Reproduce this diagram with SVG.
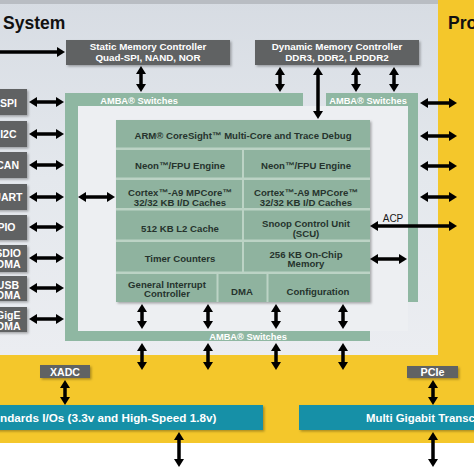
<svg xmlns="http://www.w3.org/2000/svg" width="474" height="474" viewBox="0 0 474 474">
<defs>
<linearGradient id="bg" x1="0" y1="0" x2="0" y2="1">
<stop offset="0" stop-color="#d7dce3"/>
<stop offset="0.5" stop-color="#e4e8ed"/>
<stop offset="1" stop-color="#ebedf1"/>
</linearGradient>
<marker id="ah" viewBox="0 0 8 10" refX="1" refY="5" markerWidth="8" markerHeight="10" markerUnits="userSpaceOnUse" orient="auto-start-reverse">
<path d="M0,0 L8,5 L0,10 z" fill="#000"/>
</marker>
<filter id="sh" x="-10%" y="-20%" width="130%" height="160%">
<feDropShadow dx="1.5" dy="1.5" stdDeviation="1.2" flood-color="#000" flood-opacity="0.3"/>
</filter>
</defs>
<style>
.gbox{fill:#616264;filter:url(#sh)}
.wt{font-family:"Liberation Sans",Arial,sans-serif;font-weight:bold;fill:#ffffff}
.pl{font-size:10.5px;text-anchor:end}
.ct{font-family:"Liberation Sans",Arial,sans-serif;font-weight:bold;fill:#26332d;font-size:9.6px;text-anchor:middle}
.amba{fill:#8fb7a2}
.sep{fill:#bcd3c5}
.arr{stroke:#000;stroke-width:3.5;fill:none;marker-start:url(#ah);marker-end:url(#ah)}
.arr1{stroke:#000;stroke-width:3.5;fill:none;marker-end:url(#ah)}
.teal{fill:#1690a7;filter:url(#sh)}
</style>

<!-- backgrounds -->
<rect x="0" y="0" width="474" height="474" fill="#ffffff"/>
<rect x="0" y="0" width="474" height="443" fill="#f4c72b"/>
<rect x="0" y="0" width="438" height="355" fill="url(#bg)"/>
<rect x="0" y="0" width="438" height="4" fill="#b9bdc3"/>
<rect x="78" y="106" width="330" height="225" fill="#edeff2"/>

<!-- titles -->
<text x="3" y="29" font-family="Liberation Sans,Arial,sans-serif" font-weight="bold" font-size="17.5" fill="#111">System</text>
<text x="448" y="29" font-family="Liberation Sans,Arial,sans-serif" font-weight="bold" font-size="17.5" fill="#111">Pro</text>

<!-- AMBA switch frame -->
<g id="amba-switches">
<rect class="amba" x="65" y="93" width="238" height="13"/>
<rect class="amba" x="65" y="93" width="13" height="248"/>
<rect class="amba" x="65" y="331" width="305" height="10"/>
<rect class="amba" x="326" y="93" width="92" height="13"/>
<rect class="amba" x="408" y="93" width="10" height="209"/>
<text class="wt" x="139" y="103.5" font-size="9.3" text-anchor="middle">AMBA® Switches</text>
<text class="wt" x="368" y="103.5" font-size="9.3" text-anchor="middle">AMBA® Switches</text>
<text class="wt" x="248" y="339.5" font-size="9.3" text-anchor="middle">AMBA® Switches</text>
</g>

<!-- memory controllers -->
<g id="static-memory-controller">
<rect class="gbox" x="66" y="40" width="164" height="25"/>
<text class="wt" x="148" y="50" font-size="9.8" text-anchor="middle">Static Memory Controller</text>
<text class="wt" x="148" y="61" font-size="9.8" text-anchor="middle">Quad-SPI, NAND, NOR</text>
</g>
<g id="dynamic-memory-controller">
<rect class="gbox" x="255" y="40" width="164" height="25"/>
<text class="wt" x="337" y="50" font-size="9.8" text-anchor="middle">Dynamic Memory Controller</text>
<text class="wt" x="337" y="61" font-size="9.8" text-anchor="middle">DDR3, DDR2, LPDDR2</text>
</g>

<!-- peripherals -->
<g id="spi"><rect class="gbox" x="-5" y="89" width="32" height="26"/><text class="wt pl" x="17" y="106.5">SPI</text></g>
<g id="i2c"><rect class="gbox" x="-5" y="121" width="32" height="26"/><text class="wt pl" x="16.5" y="138">I2C</text></g>
<g id="can"><rect class="gbox" x="-5" y="152" width="32" height="26"/><text class="wt pl" x="19" y="169">CAN</text></g>
<g id="uart"><rect class="gbox" x="-5" y="184" width="32" height="26"/><text class="wt pl" x="22.5" y="201">UART</text></g>
<g id="gpio"><rect class="gbox" x="-5" y="215" width="32" height="25"/><text class="wt pl" x="15.5" y="231">PIO</text></g>
<g id="sdio"><rect class="gbox" x="-5" y="245" width="32" height="27"/><text class="wt pl" x="21" y="257">SDIO</text><text class="wt pl" x="20.5" y="268">DMA</text></g>
<g id="usb"><rect class="gbox" x="-5" y="276" width="32" height="25"/><text class="wt pl" x="19" y="288.5">USB</text><text class="wt pl" x="20.5" y="299">DMA</text></g>
<g id="gige"><rect class="gbox" x="-5" y="307" width="32" height="25"/><text class="wt pl" x="20.5" y="319">GigE</text><text class="wt pl" x="20.5" y="329.5">DMA</text></g>

<!-- core block -->
<g id="core">
<rect x="116" y="120" width="254" height="182" fill="#8fb39f" filter="url(#sh)"/>
<rect class="sep" x="116" y="147.5" width="254" height="2.5"/>
<rect class="sep" x="116" y="177.5" width="254" height="2.5"/>
<rect class="sep" x="116" y="208" width="254" height="2.5"/>
<rect class="sep" x="116" y="239.5" width="254" height="2.5"/>
<rect class="sep" x="116" y="271.5" width="254" height="2.5"/>
<rect class="sep" x="242" y="150" width="2" height="122"/>
<rect class="sep" x="216.5" y="274" width="2" height="28"/>
<rect class="sep" x="266.5" y="274" width="2" height="28"/>
<text class="ct" x="243" y="138.5">ARM® CoreSight™ Multi-Core and Trace Debug</text>
<text class="ct" x="180" y="168.5">Neon™/FPU Engine</text>
<text class="ct" x="306" y="168.5">Neon™/FPU Engine</text>
<text class="ct" x="180" y="195.5">Cortex™-A9 MPCore™</text>
<text class="ct" x="180" y="205.5">32/32 KB I/D Caches</text>
<text class="ct" x="306" y="195.5">Cortex™-A9 MPCore™</text>
<text class="ct" x="306" y="205.5">32/32 KB I/D Caches</text>
<text class="ct" x="180" y="231.5">512 KB L2 Cache</text>
<text class="ct" x="306" y="226.5">Snoop Control Unit</text>
<text class="ct" x="306" y="236.5">(SCU)</text>
<text class="ct" x="180" y="261.5">Timer Counters</text>
<text class="ct" x="306" y="257.5">256 KB On-Chip</text>
<text class="ct" x="306" y="267">Memory</text>
<text class="ct" x="167" y="287.5">General Interrupt</text>
<text class="ct" x="167" y="297">Controller</text>
<text class="ct" x="242" y="294.5">DMA</text>
<text class="ct" x="318" y="294.5">Configuration</text>
</g>

<!-- bottom blocks -->
<g id="xadc"><rect class="gbox" x="40" y="365" width="50" height="13"/><text class="wt" x="65" y="375.8" font-size="10.6" text-anchor="middle">XADC</text></g>
<g id="pcie"><rect class="gbox" x="407" y="366" width="51" height="12"/><text class="wt" x="432.5" y="376" font-size="10.8" text-anchor="middle">PCIe</text></g>
<g id="standard-ios"><rect class="teal" x="-5" y="405" width="268" height="25"/><text class="wt" x="0" y="422" font-size="11.7">ndards I/Os (3.3v and High-Speed 1.8v)</text></g>
<g id="mgt"><rect class="teal" x="299" y="405" width="180" height="25"/><text class="wt" x="366" y="422" font-size="11.4">Multi Gigabit Transc</text></g>

<!-- connectors -->
<g id="connectors">
<line class="arr1" x1="0" y1="52" x2="58" y2="52"/>
<line class="arr" x1="141" y1="73" x2="141" y2="85"/>
<line class="arr" x1="280" y1="74" x2="280" y2="85"/>
<line class="arr" x1="318" y1="74" x2="318" y2="112"/>
<line class="arr" x1="356" y1="74" x2="356" y2="85"/>
<line class="arr" x1="394" y1="74" x2="394" y2="85"/>
<line class="arr" x1="36" y1="102" x2="57" y2="102"/>
<line class="arr" x1="36" y1="134" x2="57" y2="134"/>
<line class="arr" x1="36" y1="165" x2="57" y2="165"/>
<line class="arr" x1="36" y1="197" x2="57" y2="197"/>
<line class="arr" x1="36" y1="227" x2="57" y2="227"/>
<line class="arr" x1="36" y1="258" x2="57" y2="258"/>
<line class="arr" x1="36" y1="288" x2="57" y2="288"/>
<line class="arr" x1="36" y1="319" x2="57" y2="319"/>
<line class="arr" x1="85" y1="197" x2="108" y2="197"/>
<line class="arr" x1="427" y1="103" x2="450" y2="103"/>
<line class="arr" x1="427" y1="136" x2="450" y2="136"/>
<line class="arr" x1="427" y1="166" x2="450" y2="166"/>
<line class="arr" x1="427" y1="197" x2="450" y2="197"/>
<line class="arr" x1="377" y1="226" x2="450" y2="226"/>
<text x="393" y="221.5" font-family="Liberation Sans,Arial,sans-serif" font-size="10" fill="#1a1a1a" text-anchor="middle">ACP</text>
<line class="arr" x1="377" y1="259" x2="400" y2="259"/>
<line class="arr" x1="142" y1="311" x2="142" y2="322"/>
<line class="arr" x1="208" y1="311" x2="208" y2="322"/>
<line class="arr" x1="276" y1="311" x2="276" y2="322"/>
<line class="arr" x1="343" y1="311" x2="343" y2="322"/>
<line class="arr" x1="142" y1="350" x2="142" y2="363"/>
<line class="arr" x1="208" y1="350" x2="208" y2="363"/>
<line class="arr" x1="276" y1="350" x2="276" y2="363"/>
<line class="arr" x1="343" y1="350" x2="343" y2="363"/>
<line class="arr" x1="65" y1="387" x2="65" y2="398"/>
<line class="arr" x1="433" y1="387" x2="433" y2="398"/>
<line class="arr" x1="179" y1="439" x2="179" y2="460"/>
<line class="arr" x1="433" y1="439" x2="433" y2="460"/>
</g>
</svg>
